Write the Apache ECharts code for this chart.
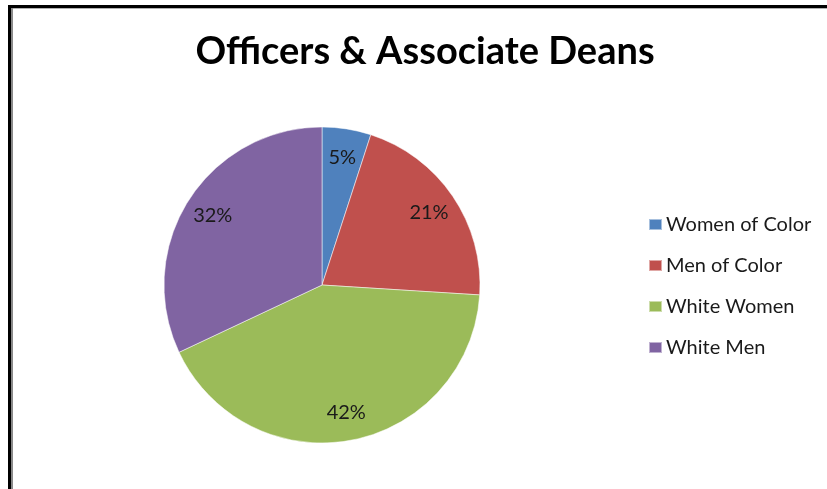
<!DOCTYPE html>
<html>
<head>
<meta charset="utf-8">
<script src="https://cdn.jsdelivr.net/npm/echarts@6/dist/echarts.min.js"></script>
<style>
  html, body { margin: 0; padding: 0; background: #fff; }
  #chart { width: 827px; height: 489px; }
</style>
</head>
<body>
<div id="chart"></div>
<script>
// Share of officers and associate deans by group
const categories = ['Women of Color', 'Men of Color', 'White Women', 'White Men'];
const shares = [5, 21, 42, 32];
const colors = ['#4F81BD', '#C0504D', '#9BBB59', '#8064A2'];

const FONT = 'Lato, "Open Sans", sans-serif';
const pieCenter = [322, 285];
const pieRadius = 158;
// percentage labels sit at about 80% of the pie radius
const labelRadius = pieRadius * 1.6;

const slices = categories.map((name, i) => ({
  name,
  value: shares[i],
  itemStyle: { color: colors[i] }
}));

const chart = echarts.init(document.getElementById('chart'), null, { renderer: 'canvas' });

chart.setOption({
  animation: false,
  backgroundColor: '#fff',
  title: {
    text: 'Officers & Associate Deans',
    left: 420,
    textAlign: 'center',
    top: 28,
    textStyle: { fontFamily: FONT, fontWeight: 'bold', fontSize: 38, color: '#000' }
  },
  legend: {
    orient: 'vertical',
    left: 643,
    top: 209,
    itemWidth: 13,
    itemHeight: 11,
    itemGap: 20,
    icon: 'rect',
    data: categories,
    textStyle: { fontFamily: FONT, fontSize: 20, color: '#1a1a1a', lineHeight: 21, padding: [0, 0, 0, -1] }
  },
  graphic: [
    { type: 'rect', shape: { x: 8, y: 5, width: 819, height: 3 }, style: { fill: '#000' }, silent: true },
    { type: 'rect', shape: { x: 8, y: 5, width: 3, height: 484 }, style: { fill: '#000' }, silent: true },
    { type: 'rect', shape: { x: 11, y: 8, width: 816, height: 1 }, style: { fill: '#b0b0b0' }, silent: true },
    { type: 'rect', shape: { x: 11, y: 8, width: 2, height: 481 }, style: { fill: '#8a8a8a' }, silent: true }
  ],
  series: [
    {
      name: 'slices',
      type: 'pie',
      center: pieCenter,
      radius: [0, pieRadius],
      startAngle: 90,
      clockwise: true,
      data: slices,
      label: { show: false },
      labelLine: { show: false },
      itemStyle: { borderColor: 'rgba(255,255,255,0.5)', borderWidth: 1 },
      emphasis: { disabled: true }
    },
    {
      name: 'labels',
      type: 'pie',
      silent: true,
      center: pieCenter,
      radius: [0, labelRadius],
      startAngle: 90,
      clockwise: true,
      data: categories.map((name, i) => ({ name, value: shares[i] })),
      itemStyle: { color: 'rgba(0,0,0,0)' },
      legendHoverLink: false,
      label: {
        show: true,
        position: 'inside',
        formatter: p => p.value + '%',
        fontFamily: FONT,
        fontSize: 20,
        color: '#1a1a1a'
      },
      labelLine: { show: false },
      emphasis: { disabled: true }
    }
  ]
});
</script>
</body>
</html>
